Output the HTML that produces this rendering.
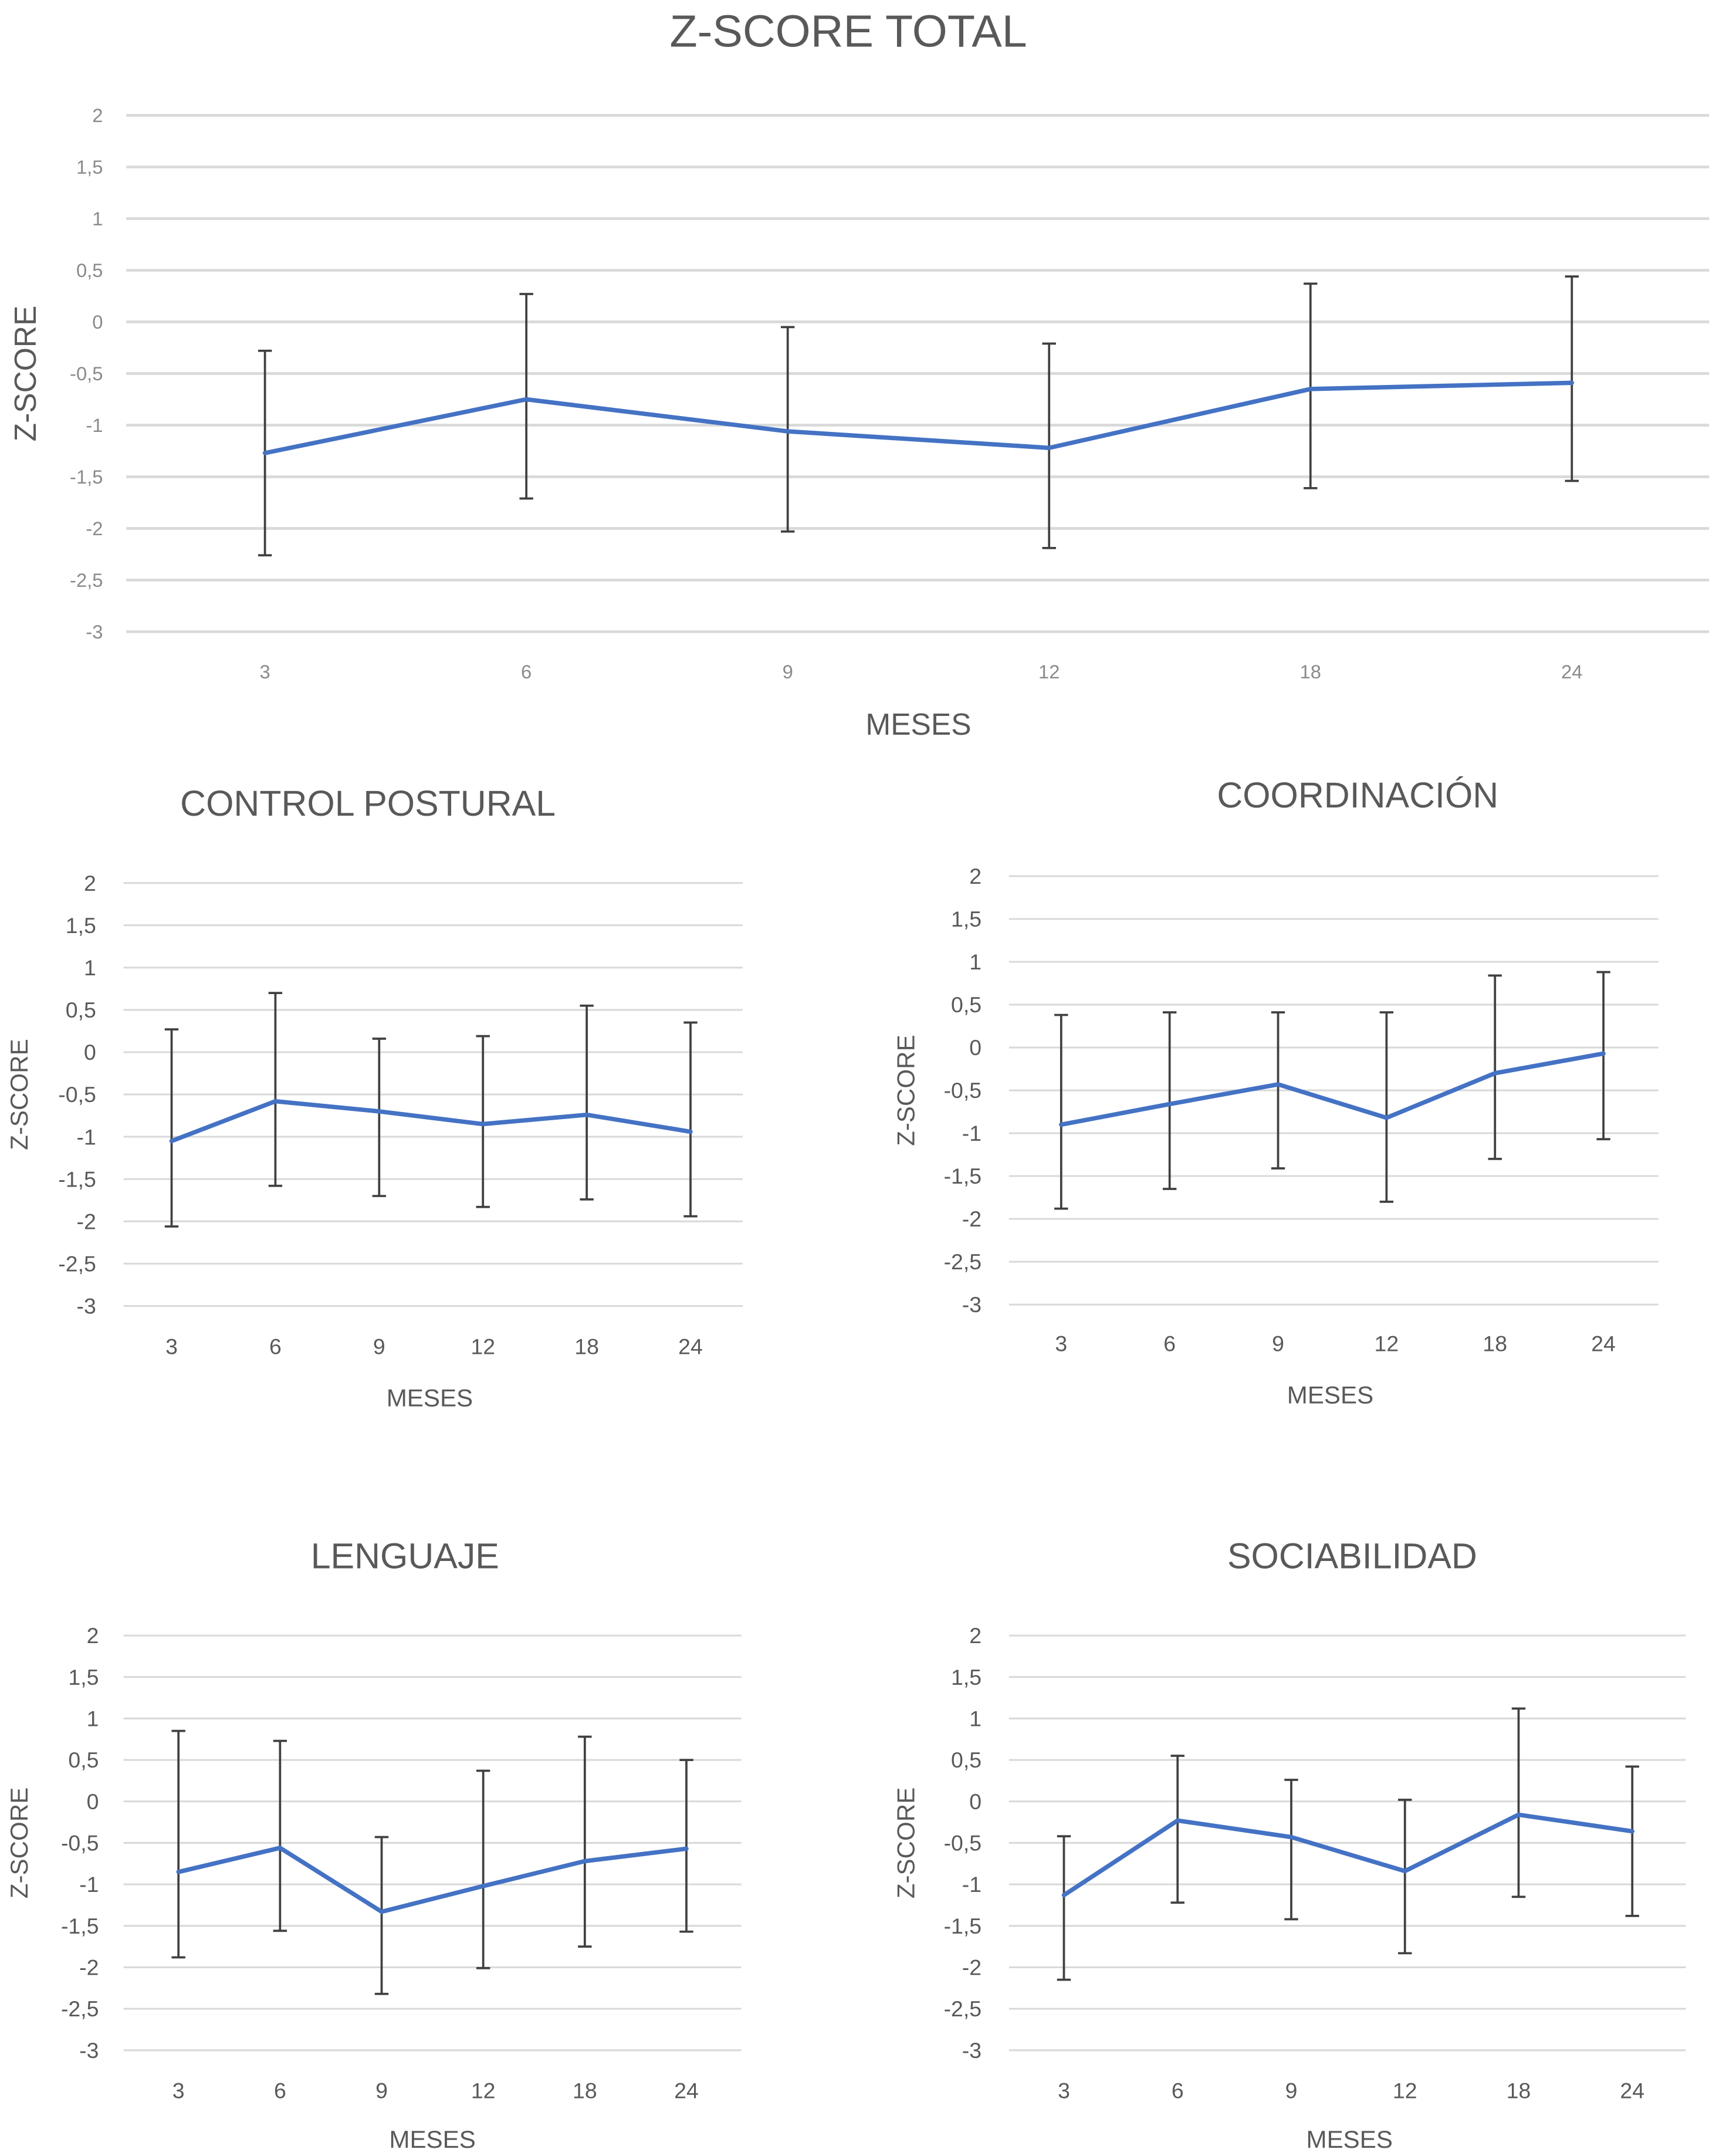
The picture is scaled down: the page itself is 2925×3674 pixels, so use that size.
<!DOCTYPE html>
<html><head><meta charset="utf-8"><style>
html,body{margin:0;padding:0;background:#fff;}
svg{display:block;}
text{font-family:"Liberation Sans",sans-serif;}
</style></head><body>
<svg id="c" width="2925" height="3674" viewBox="0 0 1250 1570" preserveAspectRatio="none" xmlns="http://www.w3.org/2000/svg"></svg>
<script>
const categories = ["3","6","9","12","18","24"];
const yTicks = [2,1.5,1,0.5,0,-0.5,-1,-1.5,-2,-2.5,-3];
const totalMean = [-1.27,-0.75,-1.06,-1.22,-0.65,-0.59];
const totalUp = [-0.28,0.27,-0.05,-0.21,0.37,0.44];
const totalLo = [-2.26,-1.71,-2.03,-2.19,-1.61,-1.54];
const postMean = [-1.05,-0.58,-0.70,-0.85,-0.74,-0.94];
const postUp = [0.27,0.70,0.16,0.19,0.55,0.35];
const postLo = [-2.06,-1.58,-1.70,-1.83,-1.74,-1.94];
const coordMean = [-0.90,-0.66,-0.43,-0.82,-0.30,-0.07];
const coordUp = [0.38,0.41,0.41,0.41,0.84,0.88];
const coordLo = [-1.88,-1.65,-1.41,-1.80,-1.30,-1.07];
const lengMean = [-0.85,-0.56,-1.33,-1.02,-0.72,-0.57];
const lengUp = [0.85,0.73,-0.43,0.37,0.78,0.50];
const lengLo = [-1.88,-1.56,-2.32,-2.01,-1.75,-1.57];
const socMean = [-1.13,-0.23,-0.43,-0.84,-0.16,-0.36];
const socUp = [-0.42,0.55,0.26,0.02,1.12,0.42];
const socLo = [-2.15,-1.22,-1.42,-1.83,-1.15,-1.38];

const svg=document.getElementById('c');
const NS="http://www.w3.org/2000/svg";
function mk(tag,attrs,parent){const e=document.createElementNS(NS,tag);for(const k in attrs)e.setAttribute(k,attrs[k]);(parent||svg).appendChild(e);return e;}
function fmt(v){return String(v).replace('.',',');}

function chart(cfg,mean,up,lo){
  const g=mk('g',{});
  
  
  const y=v=>cfg.y2+(2-v)/5*(cfg.yb-cfg.y2);
  const x=i=>cfg.x0c+i*(cfg.x1c-cfg.x0c)/(categories.length-1);
  const t=mk('text',{x:cfg.tx,y:cfg.ty,'text-anchor':'middle','font-size':cfg.tfs,fill:'#595959'},g);
  t.textContent=cfg.title;
  
  
  yTicks.forEach(v=>{
    const l=mk('line',{x1:cfg.gx0,x2:cfg.gx1,y1:y(v),y2:y(v),stroke:'#d9d9d9','stroke-width':cfg.gw},g);
    
    
    const tl=mk('text',{x:cfg.ylx,y:y(v)+cfg.fs*0.35,'text-anchor':'end','font-size':cfg.fs,fill:cfg.tc},g);
    tl.textContent=fmt(v);
    
    
  });
  categories.forEach((c,i)=>{
    const tl=mk('text',{x:x(i),y:cfg.xly,'text-anchor':'middle','font-size':cfg.fs,fill:cfg.tc},g);
    tl.textContent=c;
    
    
  });
  const xt=mk('text',{x:cfg.mx,y:cfg.my,'text-anchor':'middle','font-size':cfg.afs,fill:'#595959'},g);
  xt.textContent='MESES';
  
  
  const yt=mk('text',{x:0,y:0,'text-anchor':'middle','font-size':cfg.afs,fill:'#595959',transform:`translate(${cfg.zx},${cfg.zy}) rotate(-90)`},g);
  yt.textContent='Z-SCORE';
  
  
  categories.forEach((c,i)=>{
    const eb=mk('path',{d:`M${x(i)},${y(up[i])}V${y(lo[i])}M${x(i)-5},${y(up[i])}H${x(i)+5}M${x(i)-5},${y(lo[i])}H${x(i)+5}`,stroke:'#404040','stroke-width':1.6,fill:'none'},g);
    
    
  });
  const pl=mk('polyline',{points:mean.map((v,i)=>x(i)+','+y(v)).join(' '),stroke:'#4472C4','stroke-width':3.2,fill:'none','stroke-linejoin':'round','stroke-linecap':'round'},g);
  
  
}

chart({name:'total-chart',title:'Z-SCORE TOTAL',tx:618,ty:34,tfs:33,y2:84,yb:460,x0c:193,x1c:1145,gx0:92,gx1:1245,gw:2,ylx:75,fs:14,tc:'#8a8a8a',xly:494,mx:669,my:535,afs:22,zx:26,zy:272},totalMean,totalUp,totalLo);
chart({name:'control-postural-chart',title:'CONTROL POSTURAL',tx:268,ty:594,tfs:26,y2:643,yb:951,x0c:125,x1c:503,gx0:90,gx1:541,gw:1.3,ylx:70,fs:16,tc:'#595959',xly:986,mx:313,my:1024,afs:18,zx:20,zy:797},postMean,postUp,postLo);
chart({name:'coordinacion-chart',title:'COORDINACIÓN',tx:989,ty:588,tfs:26,y2:638,yb:950,x0c:773,x1c:1168,gx0:735,gx1:1208,gw:1.3,ylx:715,fs:16,tc:'#595959',xly:984,mx:969,my:1022,afs:18,zx:666,zy:794},coordMean,coordUp,coordLo);
chart({name:'lenguaje-chart',title:'LENGUAJE',tx:295,ty:1142,tfs:26,y2:1191,yb:1493,x0c:130,x1c:500,gx0:90,gx1:540,gw:1.3,ylx:72,fs:16,tc:'#595959',xly:1528,mx:315,my:1564,afs:18,zx:20,zy:1342},lengMean,lengUp,lengLo);
chart({name:'sociabilidad-chart',title:'SOCIABILIDAD',tx:985,ty:1142,tfs:26,y2:1191,yb:1493,x0c:775,x1c:1189,gx0:735,gx1:1228,gw:1.3,ylx:715,fs:16,tc:'#595959',xly:1528,mx:983,my:1564,afs:18,zx:666,zy:1342},socMean,socUp,socLo);
</script>
</body></html>
